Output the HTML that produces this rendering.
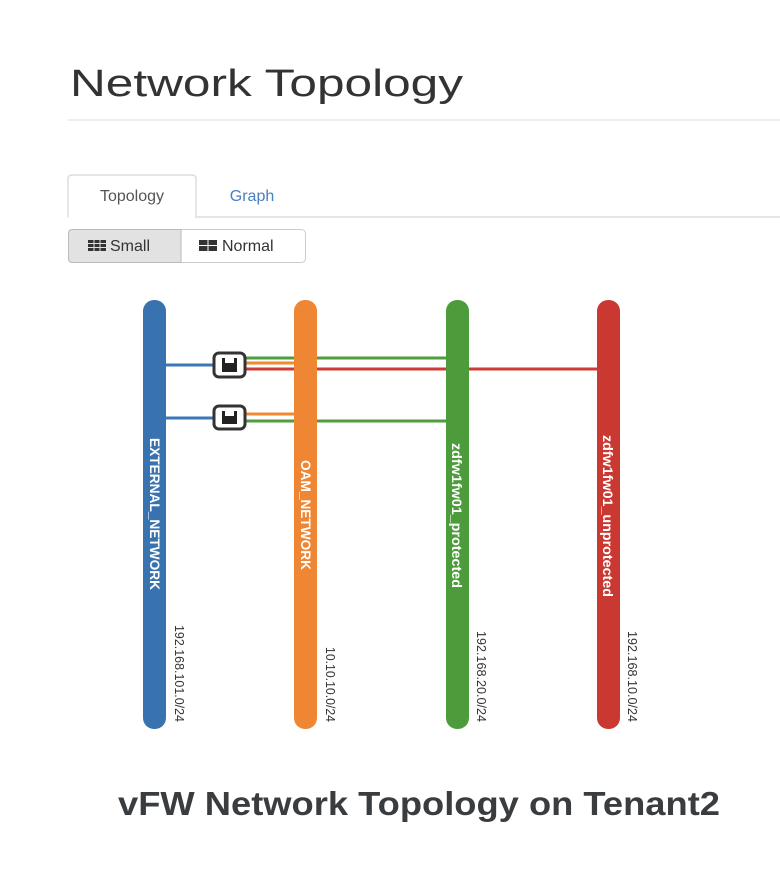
<!DOCTYPE html>
<html><head><meta charset="utf-8"><style>
html,body{margin:0;padding:0;background:#fff;width:780px;height:874px;overflow:hidden}
</style></head><body>
<svg width="780" height="874" xmlns="http://www.w3.org/2000/svg" font-family="Liberation Sans, sans-serif">
<rect width="780" height="874" fill="#fff"/>
<text x="70" y="96" font-size="38" fill="#333" textLength="393" lengthAdjust="spacingAndGlyphs">Network Topology</text>
<line x1="68" y1="120" x2="780" y2="120" stroke="#eee" stroke-width="2"/>
<!-- tabs -->
<line x1="68" y1="217" x2="780" y2="217" stroke="#ddd" stroke-width="1.5"/>
<path d="M68,217 V179 Q68,175 72,175 H192 Q196,175 196,179 V217" fill="#fff" stroke="#ddd" stroke-width="1.5"/>
<rect x="69" y="216" width="126" height="3" fill="#fff"/>
<text x="132" y="201" font-size="16" fill="#555" text-anchor="middle">Topology</text>
<text x="252" y="201" font-size="16" fill="#4a7fc0" text-anchor="middle">Graph</text>
<!-- buttons -->
<rect x="68.5" y="229.5" width="237" height="33" rx="4" fill="#fff" stroke="#ccc"/>
<path d="M72.5,229.5 H181 V262.5 H72.5 Q68.5,262.5 68.5,258.5 V233.5 Q68.5,229.5 72.5,229.5Z" fill="#e2e2e2" stroke="#bbb"/>
<g fill="#333">
<rect x="88" y="240" width="18" height="3"/><rect x="88" y="244" width="18" height="3"/><rect x="88" y="248" width="18" height="3"/>
<rect x="199" y="240" width="18" height="5"/><rect x="199" y="246" width="18" height="5"/>
</g>
<g stroke="#e2e2e2" stroke-width="1"><line x1="94" y1="239" x2="94" y2="252"/><line x1="100" y1="239" x2="100" y2="252"/></g>
<line x1="208" y1="239" x2="208" y2="252" stroke="#fff"/>
<text x="110" y="251" font-size="16" fill="#333">Small</text>
<text x="222" y="251" font-size="16" fill="#333">Normal</text>
<!-- links -->
<g stroke-width="3" fill="none">
<line x1="166" y1="365" x2="215" y2="365" stroke="#3b78b8"/>
<line x1="245" y1="358" x2="447" y2="358" stroke="#4e9e3c"/>
<line x1="245" y1="363" x2="296" y2="363" stroke="#ef8a33"/>
<line x1="245" y1="369" x2="598" y2="369" stroke="#cc3b35"/>
<line x1="166" y1="418" x2="215" y2="418" stroke="#3b78b8"/>
<line x1="245" y1="414" x2="296" y2="414" stroke="#ef8a33"/>
<line x1="245" y1="421" x2="447" y2="421" stroke="#4e9e3c"/>
</g>
<!-- bars -->
<rect x="143" y="300" width="23" height="429" rx="11" fill="#3873b0"/>
<rect x="294" y="300" width="23" height="429" rx="11" fill="#ef8633"/>
<rect x="446" y="300" width="23" height="429" rx="11" fill="#4d9c3b"/>
<rect x="597" y="300" width="23" height="429" rx="11" fill="#c93932"/>
<!-- routers -->
<g>
<rect x="214" y="353" width="31" height="24" rx="5" fill="#fff" stroke="#333" stroke-width="3"/>
<rect x="222" y="358" width="15" height="14" fill="#222"/><rect x="225" y="358" width="9" height="5" fill="#fff"/>
<rect x="214" y="406" width="31" height="23" rx="5" fill="#fff" stroke="#333" stroke-width="3"/>
<rect x="222" y="411" width="15" height="13" fill="#222"/><rect x="225" y="411" width="9" height="5" fill="#fff"/>
</g>
<!-- labels -->
<g font-size="14" font-weight="bold" fill="#fff">
<text transform="translate(150,438) rotate(90)" textLength="152" lengthAdjust="spacingAndGlyphs">EXTERNAL_NETWORK</text>
<text transform="translate(301,460) rotate(90)" textLength="110" lengthAdjust="spacingAndGlyphs">OAM_NETWORK</text>
<text transform="translate(452,443) rotate(90)" textLength="145" lengthAdjust="spacingAndGlyphs">zdfw1fw01_protected</text>
<text transform="translate(603,435) rotate(90)" textLength="162" lengthAdjust="spacingAndGlyphs">zdfw1fw01_unprotected</text>
</g>
<g font-size="13" fill="#333">
<text transform="translate(175,625) rotate(90)" textLength="97" lengthAdjust="spacingAndGlyphs">192.168.101.0/24</text>
<text transform="translate(326,647) rotate(90)" textLength="75" lengthAdjust="spacingAndGlyphs">10.10.10.0/24</text>
<text transform="translate(477,631) rotate(90)" textLength="91" lengthAdjust="spacingAndGlyphs">192.168.20.0/24</text>
<text transform="translate(628,631) rotate(90)" textLength="91" lengthAdjust="spacingAndGlyphs">192.168.10.0/24</text>
</g>
<text x="118" y="815" font-size="33" font-weight="bold" fill="#3a3d40" textLength="602" lengthAdjust="spacingAndGlyphs">vFW Network Topology on Tenant2</text>
</svg>
</body></html>
